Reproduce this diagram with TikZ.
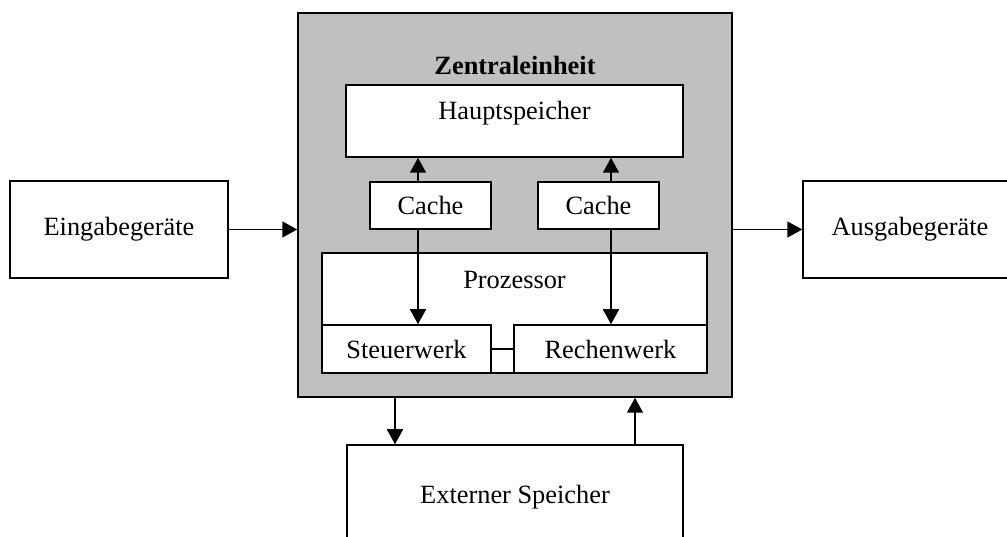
\documentclass[tikz,border=0pt]{standalone}
\usepackage{fontspec}
\setmainfont{Liberation Serif}
\usepackage{tikz}
\usetikzlibrary{arrows.meta, calc}
\definecolor{UnitGrey}{RGB}{192,192,192}

\begin{document}
\begin{tikzpicture}[
		box/.style={draw, line width=0.85pt, fill=white, inner sep=0pt, font=\fontsize{15}{18}\selectfont},
		txt/.style={inner sep=0pt, font=\fontsize{15}{18}\selectfont},
		arr/.style={-{Triangle[length=0.3cm, width=0.32cm]}, line width=0.85pt}]
	\useasboundingbox (0,0) rectangle (20.14,10.74);
	\clip (0,0) rectangle (20.14,10.74);
	\node[box, fill=UnitGrey, minimum width=8.68cm, minimum height=7.68cm] (zentral) at (10.30,6.64) {};
	\node[txt, font=\fontsize{15}{18}\selectfont\bfseries] (zentrallbl) at (10.30,9.44) {Zentraleinheit};
	\node[box, minimum width=6.74cm, minimum height=1.44cm] (haupt) at (10.29,8.32) {};
	\node[txt] (hauptlbl) at (10.29,8.48) {Hauptspeicher};
	\node[box, minimum width=2.42cm, minimum height=0.94cm] (cacheA) at (8.61,6.63) {Cache};
	\node[box, minimum width=2.42cm, minimum height=0.94cm] (cacheB) at (11.97,6.63) {Cache};
	\node[box, minimum width=7.70cm, minimum height=2.40cm] (proz) at (10.29,4.48) {};
	\node[txt] (prozlbl) at (10.29,5.14) {Prozessor};
	\node[box, minimum width=3.38cm, minimum height=0.96cm] (steuer) at (8.13,3.76) {Steuerwerk};
	\node[box, minimum width=3.86cm, minimum height=0.96cm] (rechen) at (12.21,3.76) {Rechenwerk};
	\node[box, minimum width=4.36cm, minimum height=1.94cm] (ein) at (2.38,6.15) {Eingabeger\"ate};
	\node[box, minimum width=4.28cm, minimum height=1.94cm] (aus) at (18.20,6.15) {Ausgabeger\"ate};
	\node[box, minimum width=6.72cm, minimum height=2.08cm] (ext) at (10.30,0.80) {Externer Speicher};
	\coordinate (la) at (8.36,0);
	\coordinate (lb) at (12.22,0);
	\coordinate (lc) at (7.90,0);
	\coordinate (ld) at (12.70,0);
	\draw[arr] (ein.east) -- (ein.east -| zentral.west);
	\draw[arr] (aus.west -| zentral.east) -- (aus.west);
	\draw[arr] (cacheA.north -| la) -- (haupt.south -| la);
	\draw[arr] (cacheB.north -| lb) -- (haupt.south -| lb);
	\draw[arr] (cacheA.south -| la) -- (steuer.north -| la);
	\draw[arr] (cacheB.south -| lb) -- (rechen.north -| lb);
	\draw[line width=0.85pt] (steuer.east) -- (rechen.west);
	\draw[arr] (zentral.south -| lc) -- (ext.north -| lc);
	\draw[arr] (ext.north -| ld) -- (zentral.south -| ld);
\end{tikzpicture}
\end{document}
